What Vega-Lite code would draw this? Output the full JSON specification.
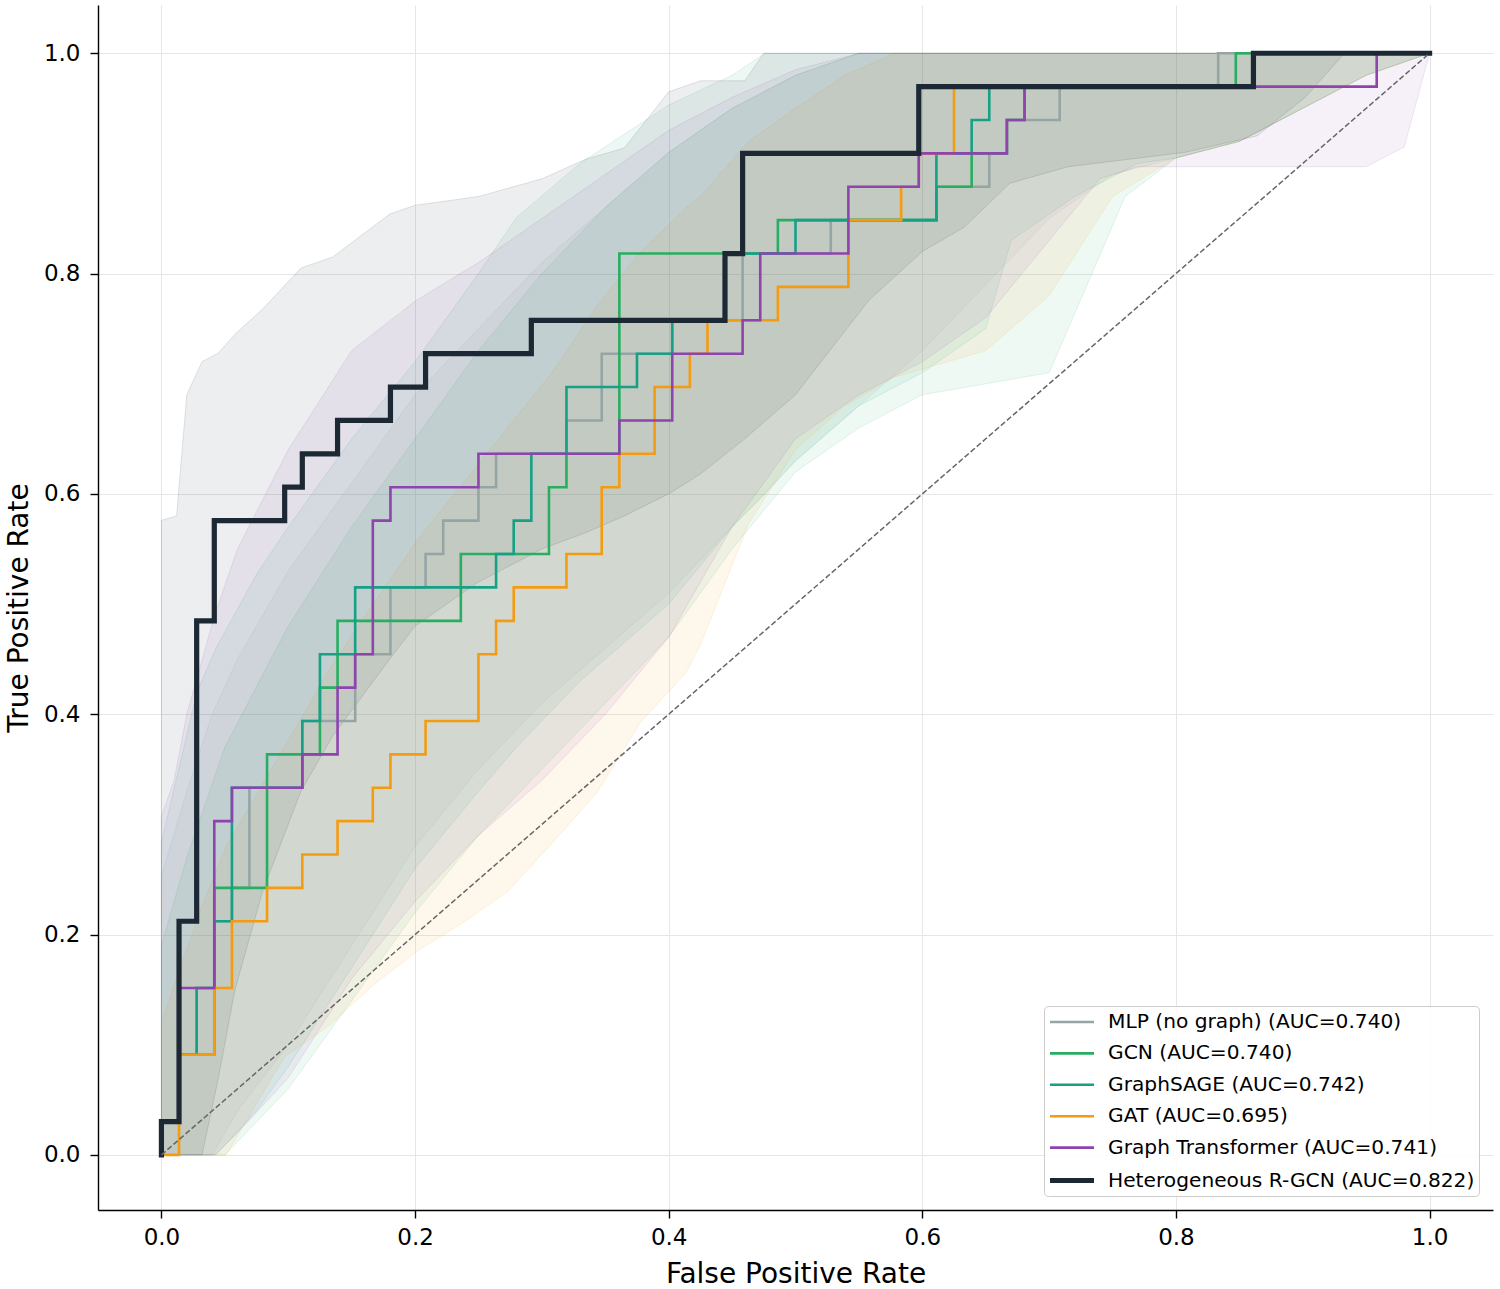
{
  "$schema": "https://vega.github.io/schema/vega-lite/v6.json",
  "width": 1395,
  "height": 1205,
  "autosize": {"type": "none"},
  "padding": {"left": 98, "top": 5, "right": 7, "bottom": 79},
  "background": "white",
  "config": {
    "view": {"stroke": null},
    "font": "DejaVu Sans",
    "axis": {
      "format": ".1f",
      "grid": true,
      "gridColor": "#e6e6e6",
      "gridWidth": 1,
      "domainColor": "#000000",
      "domainWidth": 1.4,
      "tickColor": "#000000",
      "tickWidth": 1.4,
      "tickSize": 8,
      "labelColor": "#000000",
      "labelFont": "DejaVu Sans",
      "labelFontSize": 23,
      "titleColor": "#000000",
      "titleFont": "DejaVu Sans",
      "titleFontSize": 28,
      "titleFontWeight": "normal"
    },
    "axisX": {"labelPadding": 8.5, "titleY": 72, "titleBaseline": "alphabetic"},
    "axisY": {"labelPadding": 10, "titleX": -71, "titleBaseline": "alphabetic"}
  },
  "datasets": {
    "diag": [{"fpr": 0, "tpr": 0}, {"fpr": 1, "tpr": 1}],
    "bands": [
      {"m": "MLP", "fpr": 0, "lo": 0, "hi": 0.253},
      {"m": "MLP", "fpr": 0.02, "lo": 0, "hi": 0.33},
      {"m": "MLP", "fpr": 0.04, "lo": 0, "hi": 0.4},
      {"m": "MLP", "fpr": 0.06, "lo": 0.04, "hi": 0.45},
      {"m": "MLP", "fpr": 0.1, "lo": 0.1, "hi": 0.53},
      {"m": "MLP", "fpr": 0.15, "lo": 0.19, "hi": 0.61},
      {"m": "MLP", "fpr": 0.2, "lo": 0.28, "hi": 0.69},
      {"m": "MLP", "fpr": 0.25, "lo": 0.35, "hi": 0.75},
      {"m": "MLP", "fpr": 0.3, "lo": 0.41, "hi": 0.81},
      {"m": "MLP", "fpr": 0.35, "lo": 0.46, "hi": 0.86},
      {"m": "MLP", "fpr": 0.4, "lo": 0.51, "hi": 0.91},
      {"m": "MLP", "fpr": 0.45, "lo": 0.57, "hi": 0.95},
      {"m": "MLP", "fpr": 0.5, "lo": 0.63, "hi": 0.98},
      {"m": "MLP", "fpr": 0.55, "lo": 0.68, "hi": 1},
      {"m": "MLP", "fpr": 0.6, "lo": 0.73, "hi": 1},
      {"m": "MLP", "fpr": 0.65, "lo": 0.79, "hi": 1},
      {"m": "MLP", "fpr": 0.7, "lo": 0.85, "hi": 1},
      {"m": "MLP", "fpr": 0.75, "lo": 0.89, "hi": 1},
      {"m": "MLP", "fpr": 0.8, "lo": 0.905, "hi": 1},
      {"m": "MLP", "fpr": 0.85, "lo": 0.92, "hi": 1},
      {"m": "MLP", "fpr": 0.9, "lo": 0.95, "hi": 1},
      {"m": "MLP", "fpr": 0.95, "lo": 0.98, "hi": 1},
      {"m": "MLP", "fpr": 1, "lo": 1, "hi": 1},
      {"m": "GCN", "fpr": 0, "lo": 0, "hi": 0.19},
      {"m": "GCN", "fpr": 0.02, "lo": 0, "hi": 0.27},
      {"m": "GCN", "fpr": 0.05, "lo": 0, "hi": 0.37},
      {"m": "GCN", "fpr": 0.1, "lo": 0.06, "hi": 0.48},
      {"m": "GCN", "fpr": 0.15, "lo": 0.14, "hi": 0.57},
      {"m": "GCN", "fpr": 0.2, "lo": 0.22, "hi": 0.65},
      {"m": "GCN", "fpr": 0.25, "lo": 0.29, "hi": 0.73},
      {"m": "GCN", "fpr": 0.3, "lo": 0.35, "hi": 0.8},
      {"m": "GCN", "fpr": 0.35, "lo": 0.41, "hi": 0.86},
      {"m": "GCN", "fpr": 0.4, "lo": 0.47, "hi": 0.91},
      {"m": "GCN", "fpr": 0.45, "lo": 0.55, "hi": 0.95},
      {"m": "GCN", "fpr": 0.5, "lo": 0.62, "hi": 0.98},
      {"m": "GCN", "fpr": 0.55, "lo": 0.66, "hi": 1},
      {"m": "GCN", "fpr": 0.6, "lo": 0.69, "hi": 1},
      {"m": "GCN", "fpr": 0.65, "lo": 0.7, "hi": 1},
      {"m": "GCN", "fpr": 0.7, "lo": 0.71, "hi": 1},
      {"m": "GCN", "fpr": 0.73, "lo": 0.79, "hi": 1},
      {"m": "GCN", "fpr": 0.76, "lo": 0.87, "hi": 1},
      {"m": "GCN", "fpr": 0.8, "lo": 0.905, "hi": 1},
      {"m": "GCN", "fpr": 0.85, "lo": 0.92, "hi": 1},
      {"m": "GCN", "fpr": 0.9, "lo": 0.95, "hi": 1},
      {"m": "GCN", "fpr": 0.95, "lo": 0.98, "hi": 1},
      {"m": "GCN", "fpr": 1, "lo": 1, "hi": 1},
      {"m": "SAGE", "fpr": 0, "lo": 0, "hi": 0.284},
      {"m": "SAGE", "fpr": 0.028, "lo": 0, "hi": 0.42},
      {"m": "SAGE", "fpr": 0.043, "lo": 0, "hi": 0.46},
      {"m": "SAGE", "fpr": 0.075, "lo": 0.04, "hi": 0.527},
      {"m": "SAGE", "fpr": 0.1, "lo": 0.08, "hi": 0.57},
      {"m": "SAGE", "fpr": 0.15, "lo": 0.17, "hi": 0.65},
      {"m": "SAGE", "fpr": 0.2, "lo": 0.26, "hi": 0.72},
      {"m": "SAGE", "fpr": 0.25, "lo": 0.33, "hi": 0.8},
      {"m": "SAGE", "fpr": 0.28, "lo": 0.37, "hi": 0.851},
      {"m": "SAGE", "fpr": 0.33, "lo": 0.43, "hi": 0.9},
      {"m": "SAGE", "fpr": 0.4, "lo": 0.5, "hi": 0.953},
      {"m": "SAGE", "fpr": 0.45, "lo": 0.57, "hi": 0.98},
      {"m": "SAGE", "fpr": 0.476, "lo": 0.6, "hi": 1},
      {"m": "SAGE", "fpr": 0.5, "lo": 0.63, "hi": 1},
      {"m": "SAGE", "fpr": 0.55, "lo": 0.68, "hi": 1},
      {"m": "SAGE", "fpr": 0.6, "lo": 0.71, "hi": 1},
      {"m": "SAGE", "fpr": 0.65, "lo": 0.75, "hi": 1},
      {"m": "SAGE", "fpr": 0.67, "lo": 0.83, "hi": 1},
      {"m": "SAGE", "fpr": 0.72, "lo": 0.87, "hi": 1},
      {"m": "SAGE", "fpr": 0.77, "lo": 0.9, "hi": 1},
      {"m": "SAGE", "fpr": 0.8, "lo": 0.905, "hi": 1},
      {"m": "SAGE", "fpr": 0.85, "lo": 0.92, "hi": 1},
      {"m": "SAGE", "fpr": 0.9, "lo": 0.95, "hi": 1},
      {"m": "SAGE", "fpr": 0.95, "lo": 0.98, "hi": 1},
      {"m": "SAGE", "fpr": 1, "lo": 1, "hi": 1},
      {"m": "GAT", "fpr": 0, "lo": 0, "hi": 0.12},
      {"m": "GAT", "fpr": 0.03, "lo": 0, "hi": 0.22},
      {"m": "GAT", "fpr": 0.051, "lo": 0, "hi": 0.28},
      {"m": "GAT", "fpr": 0.097, "lo": 0.089, "hi": 0.37},
      {"m": "GAT", "fpr": 0.132, "lo": 0.117, "hi": 0.44},
      {"m": "GAT", "fpr": 0.167, "lo": 0.154, "hi": 0.5},
      {"m": "GAT", "fpr": 0.203, "lo": 0.186, "hi": 0.56},
      {"m": "GAT", "fpr": 0.238, "lo": 0.211, "hi": 0.61},
      {"m": "GAT", "fpr": 0.273, "lo": 0.239, "hi": 0.66},
      {"m": "GAT", "fpr": 0.308, "lo": 0.283, "hi": 0.71},
      {"m": "GAT", "fpr": 0.343, "lo": 0.328, "hi": 0.77},
      {"m": "GAT", "fpr": 0.378, "lo": 0.393, "hi": 0.82},
      {"m": "GAT", "fpr": 0.414, "lo": 0.438, "hi": 0.86},
      {"m": "GAT", "fpr": 0.425, "lo": 0.463, "hi": 0.87},
      {"m": "GAT", "fpr": 0.463, "lo": 0.573, "hi": 0.92},
      {"m": "GAT", "fpr": 0.5, "lo": 0.64, "hi": 0.95},
      {"m": "GAT", "fpr": 0.539, "lo": 0.68, "hi": 0.98},
      {"m": "GAT", "fpr": 0.578, "lo": 0.706, "hi": 1},
      {"m": "GAT", "fpr": 0.62, "lo": 0.72, "hi": 1},
      {"m": "GAT", "fpr": 0.65, "lo": 0.73, "hi": 1},
      {"m": "GAT", "fpr": 0.7, "lo": 0.78, "hi": 1},
      {"m": "GAT", "fpr": 0.75, "lo": 0.87, "hi": 1},
      {"m": "GAT", "fpr": 0.8, "lo": 0.905, "hi": 1},
      {"m": "GAT", "fpr": 0.85, "lo": 0.92, "hi": 1},
      {"m": "GAT", "fpr": 0.9, "lo": 0.95, "hi": 1},
      {"m": "GAT", "fpr": 0.95, "lo": 0.98, "hi": 1},
      {"m": "GAT", "fpr": 1, "lo": 1, "hi": 1},
      {"m": "GT", "fpr": 0, "lo": 0, "hi": 0.307},
      {"m": "GT", "fpr": 0.01, "lo": 0, "hi": 0.34},
      {"m": "GT", "fpr": 0.02, "lo": 0, "hi": 0.4},
      {"m": "GT", "fpr": 0.042, "lo": 0, "hi": 0.49},
      {"m": "GT", "fpr": 0.06, "lo": 0.02, "hi": 0.55},
      {"m": "GT", "fpr": 0.1, "lo": 0.07, "hi": 0.64},
      {"m": "GT", "fpr": 0.15, "lo": 0.16, "hi": 0.73},
      {"m": "GT", "fpr": 0.2, "lo": 0.23, "hi": 0.775},
      {"m": "GT", "fpr": 0.25, "lo": 0.29, "hi": 0.81},
      {"m": "GT", "fpr": 0.3, "lo": 0.34, "hi": 0.85},
      {"m": "GT", "fpr": 0.35, "lo": 0.4, "hi": 0.89},
      {"m": "GT", "fpr": 0.4, "lo": 0.47, "hi": 0.93},
      {"m": "GT", "fpr": 0.45, "lo": 0.57, "hi": 0.96},
      {"m": "GT", "fpr": 0.5, "lo": 0.65, "hi": 0.985},
      {"m": "GT", "fpr": 0.55, "lo": 0.69, "hi": 1},
      {"m": "GT", "fpr": 0.6, "lo": 0.72, "hi": 1},
      {"m": "GT", "fpr": 0.65, "lo": 0.76, "hi": 1},
      {"m": "GT", "fpr": 0.7, "lo": 0.83, "hi": 1},
      {"m": "GT", "fpr": 0.74, "lo": 0.886, "hi": 1},
      {"m": "GT", "fpr": 0.77, "lo": 0.897, "hi": 1},
      {"m": "GT", "fpr": 0.95, "lo": 0.897, "hi": 1},
      {"m": "GT", "fpr": 0.98, "lo": 0.915, "hi": 1},
      {"m": "GT", "fpr": 1, "lo": 1, "hi": 1},
      {"m": "RGCN", "fpr": 0, "lo": 0, "hi": 0.576},
      {"m": "RGCN", "fpr": 0.012, "lo": 0, "hi": 0.58},
      {"m": "RGCN", "fpr": 0.02, "lo": 0, "hi": 0.69},
      {"m": "RGCN", "fpr": 0.032, "lo": 0, "hi": 0.72},
      {"m": "RGCN", "fpr": 0.045, "lo": 0.07, "hi": 0.728},
      {"m": "RGCN", "fpr": 0.058, "lo": 0.15, "hi": 0.745},
      {"m": "RGCN", "fpr": 0.08, "lo": 0.24, "hi": 0.768},
      {"m": "RGCN", "fpr": 0.11, "lo": 0.33, "hi": 0.805},
      {"m": "RGCN", "fpr": 0.135, "lo": 0.38, "hi": 0.815},
      {"m": "RGCN", "fpr": 0.18, "lo": 0.45, "hi": 0.854},
      {"m": "RGCN", "fpr": 0.2, "lo": 0.48, "hi": 0.862},
      {"m": "RGCN", "fpr": 0.25, "lo": 0.52, "hi": 0.87},
      {"m": "RGCN", "fpr": 0.3, "lo": 0.55, "hi": 0.886},
      {"m": "RGCN", "fpr": 0.335, "lo": 0.565, "hi": 0.904},
      {"m": "RGCN", "fpr": 0.365, "lo": 0.58, "hi": 0.914},
      {"m": "RGCN", "fpr": 0.4, "lo": 0.6, "hi": 0.965},
      {"m": "RGCN", "fpr": 0.425, "lo": 0.618, "hi": 0.975},
      {"m": "RGCN", "fpr": 0.46, "lo": 0.65, "hi": 0.975},
      {"m": "RGCN", "fpr": 0.475, "lo": 0.665, "hi": 1},
      {"m": "RGCN", "fpr": 0.5, "lo": 0.69, "hi": 1},
      {"m": "RGCN", "fpr": 0.558, "lo": 0.776, "hi": 1},
      {"m": "RGCN", "fpr": 0.6, "lo": 0.82, "hi": 1},
      {"m": "RGCN", "fpr": 0.633, "lo": 0.842, "hi": 1},
      {"m": "RGCN", "fpr": 0.669, "lo": 0.882, "hi": 1},
      {"m": "RGCN", "fpr": 0.715, "lo": 0.897, "hi": 1},
      {"m": "RGCN", "fpr": 0.807, "lo": 0.91, "hi": 1},
      {"m": "RGCN", "fpr": 0.864, "lo": 0.925, "hi": 1},
      {"m": "RGCN", "fpr": 0.902, "lo": 0.96, "hi": 1},
      {"m": "RGCN", "fpr": 0.933, "lo": 1, "hi": 1},
      {"m": "RGCN", "fpr": 1, "lo": 1, "hi": 1}
    ],
    "curves": [
      {"m": "MLP (no graph) (AUC=0.740)", "k": 0, "fpr": 0, "tpr": 0},
      {"m": "MLP (no graph) (AUC=0.740)", "k": 1, "fpr": 0, "tpr": 0.0303},
      {"m": "MLP (no graph) (AUC=0.740)", "k": 2, "fpr": 0.0139, "tpr": 0.0909},
      {"m": "MLP (no graph) (AUC=0.740)", "k": 3, "fpr": 0.0278, "tpr": 0.1515},
      {"m": "MLP (no graph) (AUC=0.740)", "k": 4, "fpr": 0.0417, "tpr": 0.2121},
      {"m": "MLP (no graph) (AUC=0.740)", "k": 5, "fpr": 0.0556, "tpr": 0.2424},
      {"m": "MLP (no graph) (AUC=0.740)", "k": 6, "fpr": 0.0694, "tpr": 0.3333},
      {"m": "MLP (no graph) (AUC=0.740)", "k": 7, "fpr": 0.1111, "tpr": 0.3939},
      {"m": "MLP (no graph) (AUC=0.740)", "k": 8, "fpr": 0.1528, "tpr": 0.4545},
      {"m": "MLP (no graph) (AUC=0.740)", "k": 9, "fpr": 0.1806, "tpr": 0.5152},
      {"m": "MLP (no graph) (AUC=0.740)", "k": 10, "fpr": 0.2083, "tpr": 0.5455},
      {"m": "MLP (no graph) (AUC=0.740)", "k": 11, "fpr": 0.2222, "tpr": 0.5758},
      {"m": "MLP (no graph) (AUC=0.740)", "k": 12, "fpr": 0.25, "tpr": 0.6061},
      {"m": "MLP (no graph) (AUC=0.740)", "k": 13, "fpr": 0.2639, "tpr": 0.6364},
      {"m": "MLP (no graph) (AUC=0.740)", "k": 14, "fpr": 0.3194, "tpr": 0.6667},
      {"m": "MLP (no graph) (AUC=0.740)", "k": 15, "fpr": 0.3472, "tpr": 0.7273},
      {"m": "MLP (no graph) (AUC=0.740)", "k": 16, "fpr": 0.4028, "tpr": 0.7576},
      {"m": "MLP (no graph) (AUC=0.740)", "k": 17, "fpr": 0.4583, "tpr": 0.8182},
      {"m": "MLP (no graph) (AUC=0.740)", "k": 18, "fpr": 0.5278, "tpr": 0.8485},
      {"m": "MLP (no graph) (AUC=0.740)", "k": 19, "fpr": 0.6111, "tpr": 0.8788},
      {"m": "MLP (no graph) (AUC=0.740)", "k": 20, "fpr": 0.6528, "tpr": 0.9091},
      {"m": "MLP (no graph) (AUC=0.740)", "k": 21, "fpr": 0.6667, "tpr": 0.9394},
      {"m": "MLP (no graph) (AUC=0.740)", "k": 22, "fpr": 0.7083, "tpr": 0.9697},
      {"m": "MLP (no graph) (AUC=0.740)", "k": 23, "fpr": 0.8333, "tpr": 1},
      {"m": "MLP (no graph) (AUC=0.740)", "k": 24, "fpr": 1, "tpr": 1},
      {"m": "GCN (AUC=0.740)", "k": 0, "fpr": 0, "tpr": 0},
      {"m": "GCN (AUC=0.740)", "k": 1, "fpr": 0, "tpr": 0.0303},
      {"m": "GCN (AUC=0.740)", "k": 2, "fpr": 0.0139, "tpr": 0.0909},
      {"m": "GCN (AUC=0.740)", "k": 3, "fpr": 0.0417, "tpr": 0.2424},
      {"m": "GCN (AUC=0.740)", "k": 4, "fpr": 0.0833, "tpr": 0.3636},
      {"m": "GCN (AUC=0.740)", "k": 5, "fpr": 0.125, "tpr": 0.4242},
      {"m": "GCN (AUC=0.740)", "k": 6, "fpr": 0.1389, "tpr": 0.4848},
      {"m": "GCN (AUC=0.740)", "k": 7, "fpr": 0.2361, "tpr": 0.5455},
      {"m": "GCN (AUC=0.740)", "k": 8, "fpr": 0.3056, "tpr": 0.6061},
      {"m": "GCN (AUC=0.740)", "k": 9, "fpr": 0.3194, "tpr": 0.6364},
      {"m": "GCN (AUC=0.740)", "k": 10, "fpr": 0.3611, "tpr": 0.8182},
      {"m": "GCN (AUC=0.740)", "k": 11, "fpr": 0.4861, "tpr": 0.8485},
      {"m": "GCN (AUC=0.740)", "k": 12, "fpr": 0.6111, "tpr": 0.8788},
      {"m": "GCN (AUC=0.740)", "k": 13, "fpr": 0.6389, "tpr": 0.9091},
      {"m": "GCN (AUC=0.740)", "k": 14, "fpr": 0.6667, "tpr": 0.9394},
      {"m": "GCN (AUC=0.740)", "k": 15, "fpr": 0.6806, "tpr": 0.9697},
      {"m": "GCN (AUC=0.740)", "k": 16, "fpr": 0.8472, "tpr": 1},
      {"m": "GCN (AUC=0.740)", "k": 17, "fpr": 1, "tpr": 1},
      {"m": "GraphSAGE (AUC=0.742)", "k": 0, "fpr": 0, "tpr": 0},
      {"m": "GraphSAGE (AUC=0.742)", "k": 1, "fpr": 0, "tpr": 0.0303},
      {"m": "GraphSAGE (AUC=0.742)", "k": 2, "fpr": 0.0139, "tpr": 0.0909},
      {"m": "GraphSAGE (AUC=0.742)", "k": 3, "fpr": 0.0278, "tpr": 0.1515},
      {"m": "GraphSAGE (AUC=0.742)", "k": 4, "fpr": 0.0417, "tpr": 0.2121},
      {"m": "GraphSAGE (AUC=0.742)", "k": 5, "fpr": 0.0556, "tpr": 0.3333},
      {"m": "GraphSAGE (AUC=0.742)", "k": 6, "fpr": 0.1111, "tpr": 0.3939},
      {"m": "GraphSAGE (AUC=0.742)", "k": 7, "fpr": 0.125, "tpr": 0.4545},
      {"m": "GraphSAGE (AUC=0.742)", "k": 8, "fpr": 0.1528, "tpr": 0.5152},
      {"m": "GraphSAGE (AUC=0.742)", "k": 9, "fpr": 0.2639, "tpr": 0.5455},
      {"m": "GraphSAGE (AUC=0.742)", "k": 10, "fpr": 0.2778, "tpr": 0.5758},
      {"m": "GraphSAGE (AUC=0.742)", "k": 11, "fpr": 0.2917, "tpr": 0.6364},
      {"m": "GraphSAGE (AUC=0.742)", "k": 12, "fpr": 0.3194, "tpr": 0.697},
      {"m": "GraphSAGE (AUC=0.742)", "k": 13, "fpr": 0.375, "tpr": 0.7273},
      {"m": "GraphSAGE (AUC=0.742)", "k": 14, "fpr": 0.4028, "tpr": 0.7576},
      {"m": "GraphSAGE (AUC=0.742)", "k": 15, "fpr": 0.4444, "tpr": 0.8182},
      {"m": "GraphSAGE (AUC=0.742)", "k": 16, "fpr": 0.5, "tpr": 0.8485},
      {"m": "GraphSAGE (AUC=0.742)", "k": 17, "fpr": 0.6111, "tpr": 0.9091},
      {"m": "GraphSAGE (AUC=0.742)", "k": 18, "fpr": 0.6389, "tpr": 0.9394},
      {"m": "GraphSAGE (AUC=0.742)", "k": 19, "fpr": 0.6528, "tpr": 0.9697},
      {"m": "GraphSAGE (AUC=0.742)", "k": 20, "fpr": 0.8611, "tpr": 1},
      {"m": "GraphSAGE (AUC=0.742)", "k": 21, "fpr": 1, "tpr": 1},
      {"m": "GAT (AUC=0.695)", "k": 0, "fpr": 0, "tpr": 0},
      {"m": "GAT (AUC=0.695)", "k": 1, "fpr": 0.0139, "tpr": 0.0909},
      {"m": "GAT (AUC=0.695)", "k": 2, "fpr": 0.0417, "tpr": 0.1515},
      {"m": "GAT (AUC=0.695)", "k": 3, "fpr": 0.0556, "tpr": 0.2121},
      {"m": "GAT (AUC=0.695)", "k": 4, "fpr": 0.0833, "tpr": 0.2424},
      {"m": "GAT (AUC=0.695)", "k": 5, "fpr": 0.1111, "tpr": 0.2727},
      {"m": "GAT (AUC=0.695)", "k": 6, "fpr": 0.1389, "tpr": 0.303},
      {"m": "GAT (AUC=0.695)", "k": 7, "fpr": 0.1667, "tpr": 0.3333},
      {"m": "GAT (AUC=0.695)", "k": 8, "fpr": 0.1806, "tpr": 0.3636},
      {"m": "GAT (AUC=0.695)", "k": 9, "fpr": 0.2083, "tpr": 0.3939},
      {"m": "GAT (AUC=0.695)", "k": 10, "fpr": 0.25, "tpr": 0.4545},
      {"m": "GAT (AUC=0.695)", "k": 11, "fpr": 0.2639, "tpr": 0.4848},
      {"m": "GAT (AUC=0.695)", "k": 12, "fpr": 0.2778, "tpr": 0.5152},
      {"m": "GAT (AUC=0.695)", "k": 13, "fpr": 0.3194, "tpr": 0.5455},
      {"m": "GAT (AUC=0.695)", "k": 14, "fpr": 0.3472, "tpr": 0.6061},
      {"m": "GAT (AUC=0.695)", "k": 15, "fpr": 0.3611, "tpr": 0.6364},
      {"m": "GAT (AUC=0.695)", "k": 16, "fpr": 0.3889, "tpr": 0.697},
      {"m": "GAT (AUC=0.695)", "k": 17, "fpr": 0.4167, "tpr": 0.7273},
      {"m": "GAT (AUC=0.695)", "k": 18, "fpr": 0.4306, "tpr": 0.7576},
      {"m": "GAT (AUC=0.695)", "k": 19, "fpr": 0.4861, "tpr": 0.7879},
      {"m": "GAT (AUC=0.695)", "k": 20, "fpr": 0.5417, "tpr": 0.8485},
      {"m": "GAT (AUC=0.695)", "k": 21, "fpr": 0.5833, "tpr": 0.8788},
      {"m": "GAT (AUC=0.695)", "k": 22, "fpr": 0.5972, "tpr": 0.9091},
      {"m": "GAT (AUC=0.695)", "k": 23, "fpr": 0.625, "tpr": 0.9697},
      {"m": "GAT (AUC=0.695)", "k": 24, "fpr": 0.8611, "tpr": 1},
      {"m": "GAT (AUC=0.695)", "k": 25, "fpr": 1, "tpr": 1},
      {"m": "Graph Transformer (AUC=0.741)", "k": 0, "fpr": 0, "tpr": 0},
      {"m": "Graph Transformer (AUC=0.741)", "k": 1, "fpr": 0, "tpr": 0.0303},
      {"m": "Graph Transformer (AUC=0.741)", "k": 2, "fpr": 0.0139, "tpr": 0.1515},
      {"m": "Graph Transformer (AUC=0.741)", "k": 3, "fpr": 0.0417, "tpr": 0.303},
      {"m": "Graph Transformer (AUC=0.741)", "k": 4, "fpr": 0.0556, "tpr": 0.3333},
      {"m": "Graph Transformer (AUC=0.741)", "k": 5, "fpr": 0.1111, "tpr": 0.3636},
      {"m": "Graph Transformer (AUC=0.741)", "k": 6, "fpr": 0.1389, "tpr": 0.4242},
      {"m": "Graph Transformer (AUC=0.741)", "k": 7, "fpr": 0.1528, "tpr": 0.4545},
      {"m": "Graph Transformer (AUC=0.741)", "k": 8, "fpr": 0.1667, "tpr": 0.5758},
      {"m": "Graph Transformer (AUC=0.741)", "k": 9, "fpr": 0.1806, "tpr": 0.6061},
      {"m": "Graph Transformer (AUC=0.741)", "k": 10, "fpr": 0.25, "tpr": 0.6364},
      {"m": "Graph Transformer (AUC=0.741)", "k": 11, "fpr": 0.3611, "tpr": 0.6667},
      {"m": "Graph Transformer (AUC=0.741)", "k": 12, "fpr": 0.4028, "tpr": 0.7273},
      {"m": "Graph Transformer (AUC=0.741)", "k": 13, "fpr": 0.4583, "tpr": 0.7576},
      {"m": "Graph Transformer (AUC=0.741)", "k": 14, "fpr": 0.4722, "tpr": 0.8182},
      {"m": "Graph Transformer (AUC=0.741)", "k": 15, "fpr": 0.5417, "tpr": 0.8788},
      {"m": "Graph Transformer (AUC=0.741)", "k": 16, "fpr": 0.5972, "tpr": 0.9091},
      {"m": "Graph Transformer (AUC=0.741)", "k": 17, "fpr": 0.6667, "tpr": 0.9394},
      {"m": "Graph Transformer (AUC=0.741)", "k": 18, "fpr": 0.6806, "tpr": 0.9697},
      {"m": "Graph Transformer (AUC=0.741)", "k": 19, "fpr": 0.9583, "tpr": 1},
      {"m": "Graph Transformer (AUC=0.741)", "k": 20, "fpr": 1, "tpr": 1},
      {"m": "Heterogeneous R-GCN (AUC=0.822)", "k": 0, "fpr": 0, "tpr": 0},
      {"m": "Heterogeneous R-GCN (AUC=0.822)", "k": 1, "fpr": 0, "tpr": 0.0303},
      {"m": "Heterogeneous R-GCN (AUC=0.822)", "k": 2, "fpr": 0.0139, "tpr": 0.2121},
      {"m": "Heterogeneous R-GCN (AUC=0.822)", "k": 3, "fpr": 0.0278, "tpr": 0.4848},
      {"m": "Heterogeneous R-GCN (AUC=0.822)", "k": 4, "fpr": 0.0417, "tpr": 0.5758},
      {"m": "Heterogeneous R-GCN (AUC=0.822)", "k": 5, "fpr": 0.0972, "tpr": 0.6061},
      {"m": "Heterogeneous R-GCN (AUC=0.822)", "k": 6, "fpr": 0.1111, "tpr": 0.6364},
      {"m": "Heterogeneous R-GCN (AUC=0.822)", "k": 7, "fpr": 0.1389, "tpr": 0.6667},
      {"m": "Heterogeneous R-GCN (AUC=0.822)", "k": 8, "fpr": 0.1806, "tpr": 0.697},
      {"m": "Heterogeneous R-GCN (AUC=0.822)", "k": 9, "fpr": 0.2083, "tpr": 0.7273},
      {"m": "Heterogeneous R-GCN (AUC=0.822)", "k": 10, "fpr": 0.2917, "tpr": 0.7576},
      {"m": "Heterogeneous R-GCN (AUC=0.822)", "k": 11, "fpr": 0.4444, "tpr": 0.8182},
      {"m": "Heterogeneous R-GCN (AUC=0.822)", "k": 12, "fpr": 0.4583, "tpr": 0.9091},
      {"m": "Heterogeneous R-GCN (AUC=0.822)", "k": 13, "fpr": 0.5972, "tpr": 0.9697},
      {"m": "Heterogeneous R-GCN (AUC=0.822)", "k": 14, "fpr": 0.8611, "tpr": 1},
      {"m": "Heterogeneous R-GCN (AUC=0.822)", "k": 15, "fpr": 1, "tpr": 1}
    ]
  },
  "layer": [
    {
      "data": {"name": "bands"},
      "mark": {"type": "area", "fillOpacity": 0.08, "strokeOpacity": 0.12, "strokeWidth": 1},
      "encoding": {
        "x": {"field": "fpr", "type": "quantitative", "title": "False Positive Rate", "scale": {"domain": [-0.05, 1.05], "nice": false, "zero": false}, "axis": {"values": [0, 0.2, 0.4, 0.6, 0.8, 1.0]}},
        "y": {"field": "lo", "type": "quantitative", "title": "True Positive Rate", "scale": {"domain": [-0.05, 1.0438], "nice": false, "zero": false}, "axis": {"values": [0, 0.2, 0.4, 0.6, 0.8, 1.0]}},
        "y2": {"field": "hi"},
        "fill": {"field": "m", "type": "nominal", "legend": null, "scale": {"domain": ["MLP", "GCN", "SAGE", "GAT", "GT", "RGCN"], "range": ["#95a5a6", "#27ae60", "#16a085", "#f39c12", "#8e44ad", "#1c2833"]}},
        "stroke": {"field": "m", "type": "nominal", "legend": null, "scale": {"domain": ["MLP", "GCN", "SAGE", "GAT", "GT", "RGCN"], "range": ["#95a5a6", "#27ae60", "#16a085", "#f39c12", "#8e44ad", "#1c2833"]}}
      }
    },
    {
      "data": {"name": "curves"},
      "transform": [{"filter": "datum.m !== 'Heterogeneous R-GCN (AUC=0.822)'"}],
      "mark": {"type": "line", "interpolate": "step-after", "strokeJoin": "miter", "strokeCap": "square"},
      "encoding": {
        "x": {"field": "fpr", "type": "quantitative", "title": "False Positive Rate"},
        "y": {"field": "tpr", "type": "quantitative", "title": "True Positive Rate"},
        "order": {"field": "k", "type": "quantitative"},
        "color": {
          "field": "m", "type": "nominal",
          "scale": {"domain": ["MLP (no graph) (AUC=0.740)", "GCN (AUC=0.740)", "GraphSAGE (AUC=0.742)", "GAT (AUC=0.695)", "Graph Transformer (AUC=0.741)", "Heterogeneous R-GCN (AUC=0.822)"], "range": ["#95a5a6", "#27ae60", "#16a085", "#f39c12", "#8e44ad", "#1c2833"]},
          "legend": {"title": null, "orient": "none", "legendX": 946, "legendY": 1001, "symbolType": "M-2.2,0H2.2", "symbolSize": 400, "symbolOffset": 10.5, "labelOffset": 23, "padding": 4.5, "rowPadding": 9.4, "labelFont": "DejaVu Sans", "labelFontSize": 20.2, "labelColor": "#000000", "labelLimit": 0, "fillColor": "rgba(255,255,255,0.85)", "strokeColor": "#cccccc", "cornerRadius": 4}
        },
        "strokeWidth": {
          "field": "m", "type": "nominal",
          "scale": {"type": "ordinal", "domain": ["MLP (no graph) (AUC=0.740)", "GCN (AUC=0.740)", "GraphSAGE (AUC=0.742)", "GAT (AUC=0.695)", "Graph Transformer (AUC=0.741)", "Heterogeneous R-GCN (AUC=0.822)"], "range": [2.6, 2.6, 2.6, 2.6, 2.6, 5.2]},
          "legend": {"title": null, "orient": "none", "legendX": 946, "legendY": 1001, "symbolType": "M-2.2,0H2.2", "symbolSize": 400, "symbolOffset": 10.5, "labelOffset": 23, "padding": 4.5, "rowPadding": 9.4, "labelFont": "DejaVu Sans", "labelFontSize": 20.2, "labelColor": "#000000", "labelLimit": 0, "fillColor": "rgba(255,255,255,0.85)", "strokeColor": "#cccccc", "cornerRadius": 4}
        }
      }
    },
    {
      "data": {"name": "curves"},
      "transform": [{"filter": "datum.m === 'Heterogeneous R-GCN (AUC=0.822)'"}],
      "mark": {"type": "line", "interpolate": "step-after", "strokeJoin": "miter", "strokeCap": "square"},
      "encoding": {
        "x": {"field": "fpr", "type": "quantitative", "title": "False Positive Rate"},
        "y": {"field": "tpr", "type": "quantitative", "title": "True Positive Rate"},
        "order": {"field": "k", "type": "quantitative"},
        "color": {
          "field": "m", "type": "nominal",
          "scale": {"domain": ["MLP (no graph) (AUC=0.740)", "GCN (AUC=0.740)", "GraphSAGE (AUC=0.742)", "GAT (AUC=0.695)", "Graph Transformer (AUC=0.741)", "Heterogeneous R-GCN (AUC=0.822)"], "range": ["#95a5a6", "#27ae60", "#16a085", "#f39c12", "#8e44ad", "#1c2833"]},
          "legend": {"title": null, "orient": "none", "legendX": 946, "legendY": 1001, "symbolType": "M-2.2,0H2.2", "symbolSize": 400, "symbolOffset": 10.5, "labelOffset": 23, "padding": 4.5, "rowPadding": 9.4, "labelFont": "DejaVu Sans", "labelFontSize": 20.2, "labelColor": "#000000", "labelLimit": 0, "fillColor": "rgba(255,255,255,0.85)", "strokeColor": "#cccccc", "cornerRadius": 4}
        },
        "strokeWidth": {
          "field": "m", "type": "nominal",
          "scale": {"type": "ordinal", "domain": ["MLP (no graph) (AUC=0.740)", "GCN (AUC=0.740)", "GraphSAGE (AUC=0.742)", "GAT (AUC=0.695)", "Graph Transformer (AUC=0.741)", "Heterogeneous R-GCN (AUC=0.822)"], "range": [2.6, 2.6, 2.6, 2.6, 2.6, 5.2]},
          "legend": {"title": null, "orient": "none", "legendX": 946, "legendY": 1001, "symbolType": "M-2.2,0H2.2", "symbolSize": 400, "symbolOffset": 10.5, "labelOffset": 23, "padding": 4.5, "rowPadding": 9.4, "labelFont": "DejaVu Sans", "labelFontSize": 20.2, "labelColor": "#000000", "labelLimit": 0, "fillColor": "rgba(255,255,255,0.85)", "strokeColor": "#cccccc", "cornerRadius": 4}
        }
      }
    },
    {
      "data": {"name": "diag"},
      "mark": {"type": "line", "color": "#666666", "strokeWidth": 1.5, "strokeDash": [5.5, 2.5]},
      "encoding": {
        "x": {"field": "fpr", "type": "quantitative", "title": "False Positive Rate"},
        "y": {"field": "tpr", "type": "quantitative", "title": "True Positive Rate"}
      }
    }
  ]
}
